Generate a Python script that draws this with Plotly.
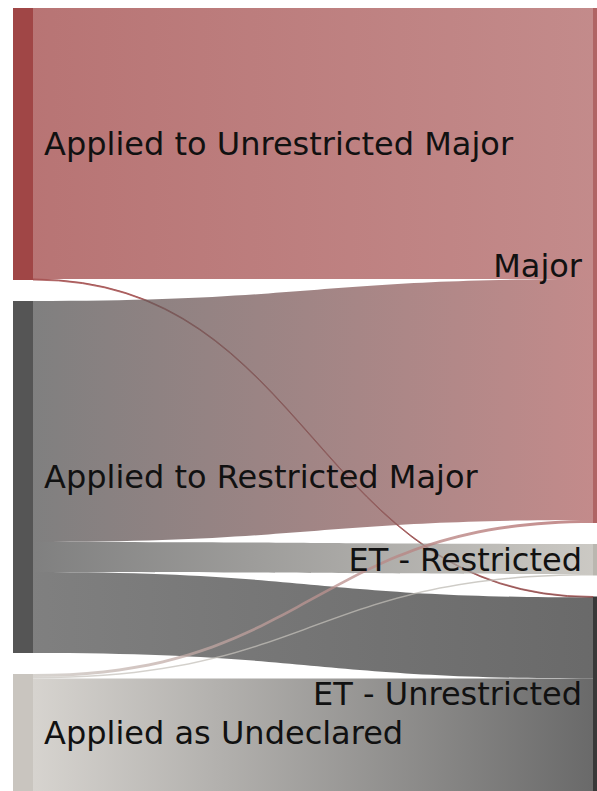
import json
import plotly.graph_objects as go

# nodes: 0-2 application type (left), 3-5 outcome (right)
labels = [
    "Applied to Unrestricted Major",
    "Applied to Restricted Major",
    "Applied as Undeclared",
    "Major",
    "ET - Restricted",
    "ET - Unrestricted",
]
node_colors = ["#a04646", "#555555", "#c9c5bf", "#af6464", "#bab7b0", "#383838"]

sources = [0, 0, 1, 1, 1, 2, 2, 2]
targets = [3, 5, 3, 4, 5, 3, 4, 5]
values = [542, 2, 482, 60, 162, 6, 3, 225]

left_nodes = [0, 1, 2]
right_nodes = [3, 4, 5]

W, H = 597, 791
ML, MT = 13, 8
PAD = 21
THICK = 20
RIGHT_VISIBLE = 4  # the outcome nodes run off the right edge


def rgba(hex_color, alpha):
    h = hex_color.lstrip("#")
    r, g, b = (int(h[i:i + 2], 16) for i in (0, 2, 4))
    return f"rgba({r},{g},{b},{alpha})"


# node totals, and the same vertical scale plotly's sankey uses
dom_w, dom_h = W - ML, H - MT
totals = [0] * len(labels)
for s, t, v in zip(sources, targets, values):
    totals[s] += v
    totals[t] += v
ky = (dom_h - PAD * (len(left_nodes) - 1)) / sum(totals[i] for i in left_nodes)

node_x = [0.0] * len(labels)
node_y = [0.0] * len(labels)
columns = ((left_nodes, THICK / 2), (right_nodes, dom_w - RIGHT_VISIBLE + THICK / 2))
for col, cx in columns:
    y = 0.0
    for i in col:
        h = totals[i] * ky
        node_x[i] = cx / dom_w
        node_y[i] = (y + h / 2) / dom_h
        y += h + PAD

# labels sit a little further from the nodes than plotly's default
sp = "\u2005"
shown = [sp + l if i in left_nodes else l + sp for i, l in enumerate(labels)]

link_alpha = 0.75
link_flat = [rgba(node_colors[s], link_alpha) for s in sources]
gradients = [[node_colors[s], node_colors[t], link_alpha] for s, t in zip(sources, targets)]

fig = go.Figure(
    go.Sankey(
        arrangement="fixed",
        node=dict(
            label=shown,
            color=node_colors,
            x=node_x,
            y=node_y,
            pad=PAD,
            thickness=THICK,
            line=dict(width=0),
        ),
        link=dict(
            source=sources,
            target=targets,
            value=values,
            color=link_flat,
        ),
        textfont=dict(family="DejaVu Sans", size=32, color="#111111", shadow="none"),
        hoverinfo="none",
    )
)

fig.update_layout(
    width=W,
    height=H,
    margin=dict(l=ML, r=0, t=MT, b=0),
    paper_bgcolor="white",
)

# plotly draws flat link colours; fade each link from its source to its target colour
post = """
document.body.style.margin = '0';
var gd = document.getElementById('{plot_id}');
var grads = %s;
var ns = 'http://www.w3.org/2000/svg';
var svg = gd.querySelector('svg.main-svg');
var defs = document.createElementNS(ns, 'defs');
svg.insertBefore(defs, svg.firstChild);
gd.querySelectorAll('.sankey-link').forEach(function(p) {
  var d = p.__data__;
  var i = (d.pointNumber != null) ? d.pointNumber : d.link.pointNumber;
  var g = grads[i];
  var lg = document.createElementNS(ns, 'linearGradient');
  lg.setAttribute('id', 'lg' + i);
  lg.setAttribute('x1', '0'); lg.setAttribute('x2', '1');
  lg.setAttribute('y1', '0'); lg.setAttribute('y2', '0');
  [[0, g[0]], [1, g[1]]].forEach(function(s) {
    var st = document.createElementNS(ns, 'stop');
    st.setAttribute('offset', s[0]);
    st.setAttribute('stop-color', s[1]);
    st.setAttribute('stop-opacity', g[2]);
    lg.appendChild(st);
  });
  defs.appendChild(lg);
  p.style.fill = 'url(#lg' + i + ')';
  p.style.fillOpacity = 1;
});
""" % json.dumps(gradients)

fig.write_html("out.html", config={"displayModeBar": False}, post_script=post)
